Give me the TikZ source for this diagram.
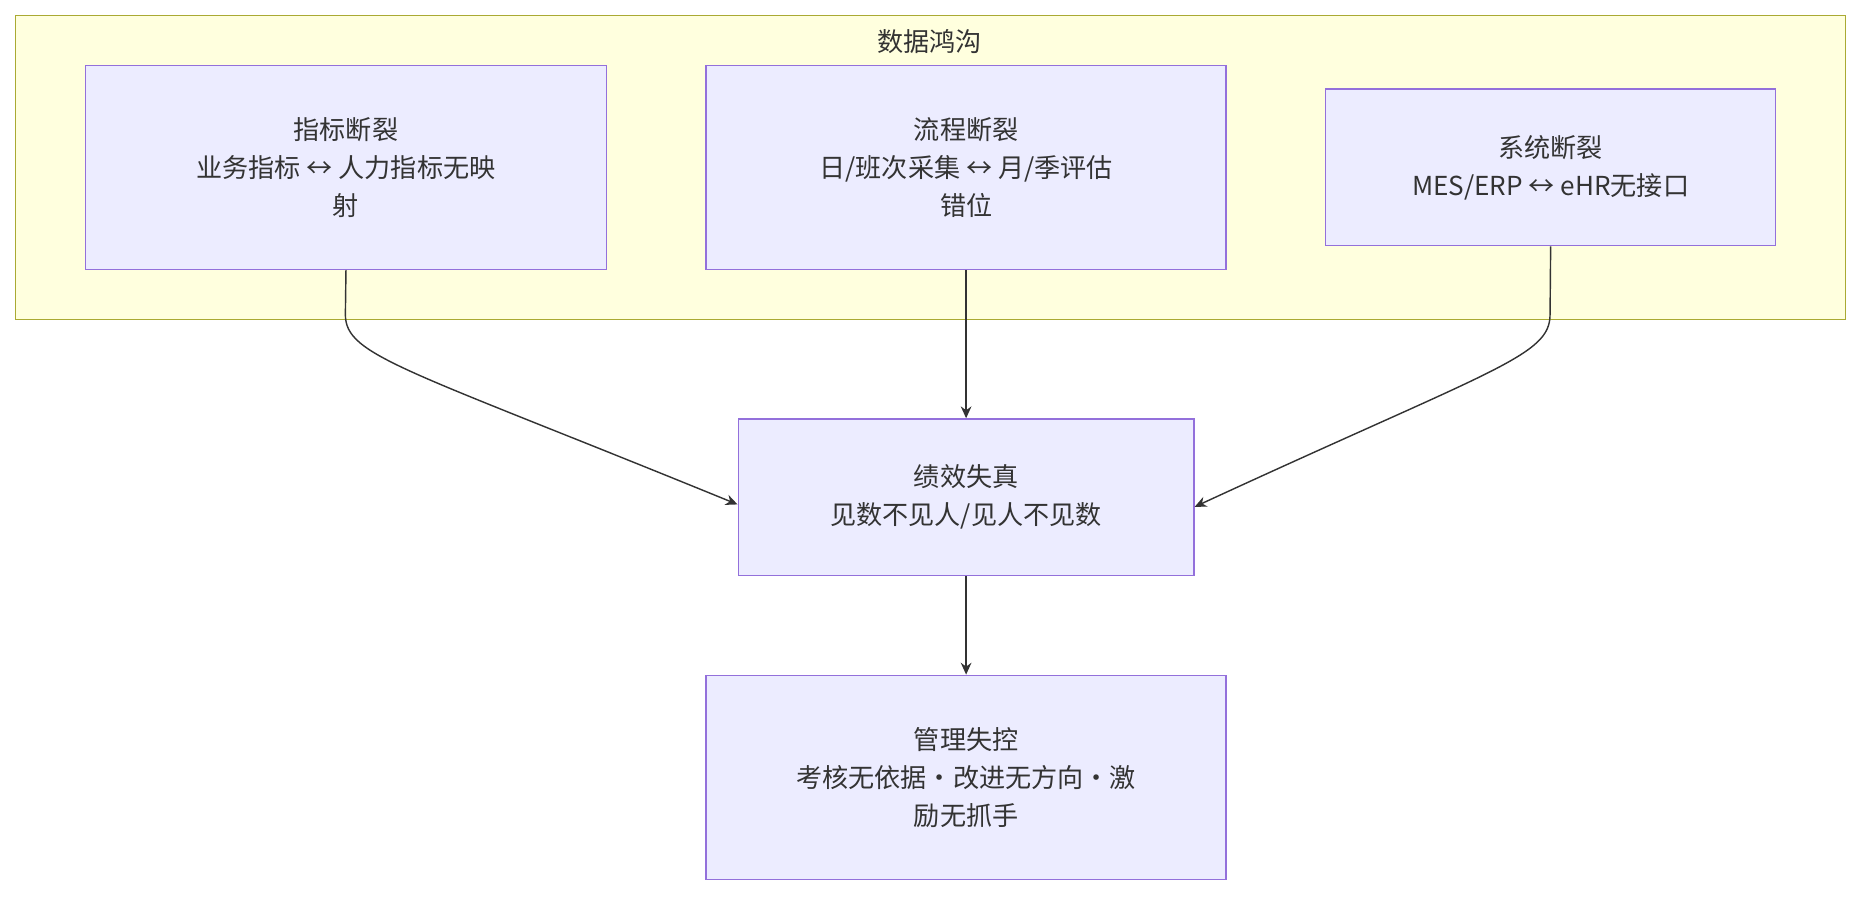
\documentclass[tikz,border=0pt]{standalone}
\usepackage{fontspec}
\setmainfont{Noto Sans CJK SC}
\usetikzlibrary{arrows.meta}
\definecolor{nf}{HTML}{ECECFF}\definecolor{nb}{HTML}{9370DB}
\definecolor{cf}{HTML}{FFFFDE}\definecolor{cb}{HTML}{AAAA33}
\definecolor{tx}{HTML}{333333}
\begin{document}
\begin{tikzpicture}[x=0.5pt,y=-0.5pt,
 box/.style={draw=nb,fill=nf,line width=0.6pt,text=tx,align=center,font=\fontsize{11}{16}\selectfont,inner sep=0},
 ar/.style={draw=tx,line width=0.6pt,-{Stealth[length=5pt,width=4.5pt]}}]
\useasboundingbox (0,0) rectangle (1568,755);
\draw[draw=cb,fill=cf,line width=0.6pt] (13,13) rectangle (1555,269);
\node[text=tx,font=\fontsize{11}{14}\selectfont] (t) at (783,35) {数据鸿沟};
\node[box,minimum width=219.5pt,minimum height=86pt] (A) at (291.5,141) {指标断裂\\业务指标 ↔ 人力指标无映\\射};
\node[box,minimum width=219pt,minimum height=86pt] (B) at (814,141) {流程断裂\\日/班次采集 ↔ 月/季评估\\错位};
\node[box,minimum width=189.5pt,minimum height=66pt] (C) at (1306.5,141) {系统断裂\\MES/ERP ↔ eHR无接口};
\node[box,minimum width=192pt,minimum height=66pt] (D) at (814,419) {绩效失真\\见数不见人/见人不见数};
\node[box,minimum width=219pt,minimum height=86pt] (E) at (814,655) {管理失控\\考核无依据·改进无方向·激\\励无抓手};
\draw[ar] (A.south) -- (291,265) .. controls (291,300) and (340,310) .. ([yshift=-3pt]D.west);
\draw[ar] (B.south) -- (D.north);
\draw[ar] (C.south) -- (1306,265) .. controls (1306,300) and (1260,310) .. ([yshift=-4pt]D.east);
\draw[ar] (D.south) -- (E.north);
\end{tikzpicture}
\end{document}
